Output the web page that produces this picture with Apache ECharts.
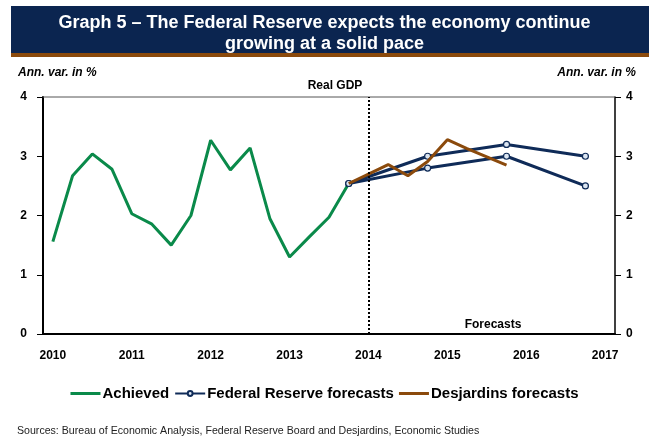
<!DOCTYPE html>
<html>
<head>
<meta charset="utf-8">
<script src="https://cdn.jsdelivr.net/npm/echarts@6/dist/echarts.min.js"></script>
<style>
  html, body { margin: 0; padding: 0; background: #ffffff; }
  #chart { width: 649px; height: 438px; }
</style>
</head>
<body>
<div id="chart"></div>
<script>
// Quarterly categories, 2010Q1 .. 2017Q1
const years = [2010, 2011, 2012, 2013, 2014, 2015, 2016, 2017];
const quarters = [];
years.forEach(function (y) {
  for (let q = 1; q <= 4; q++) {
    if (y === 2017 && q > 1) break;
    quarters.push(y + 'Q' + q);
  }
});

// Real GDP, annual variation in % (2010Q1 .. 2013Q4)
const achieved = [1.56, 2.67, 3.04, 2.78, 2.03, 1.86, 1.50, 2.00,
                  3.27, 2.77, 3.14, 1.95, 1.30, 1.64, 1.97, 2.54];

// Federal Reserve forecasts: upper and lower bounds (2013Q4, 2014Q4, 2015Q4, 2016Q4)
const fedQuarters = ['2013Q4', '2014Q4', '2015Q4', '2016Q4'];
const fedUpper = [2.54, 3.0, 3.2, 3.0];
const fedLower = [2.54, 2.8, 3.0, 2.5];

// Desjardins forecasts (2013Q4 .. 2015Q4)
const desjStart = '2013Q4';
const desjardins = [2.54, 2.70, 2.86, 2.67, 2.91, 3.28, 3.13, 2.99, 2.85];

const yTicks = [0, 1, 2, 3, 4];

function spread(keys, vals) {
  const out = quarters.map(function () { return null; });
  keys.forEach(function (k, i) { out[quarters.indexOf(k)] = vals[i]; });
  return out;
}
function fromIndex(start, vals) {
  const out = quarters.map(function () { return null; });
  const s = quarters.indexOf(start);
  vals.forEach(function (v, i) { out[s + i] = v; });
  return out;
}

const achievedData = fromIndex('2010Q1', achieved);
const upperData = spread(fedQuarters, fedUpper);
const lowerData = spread(fedQuarters, fedLower);
const desjData = fromIndex(desjStart, desjardins);

const GREEN = '#0a8a4a';
const NAVY = '#0f2b58';
const BROWN = '#8b4a0c';
const FONT = '"Liberation Sans", Arial, sans-serif';
// plain line swatch for legend entries without markers
const LINE_ICON = 'path://M0,0H30V3H0Z';

const chart = echarts.init(document.getElementById('chart'), null, { renderer: 'canvas' });

const fedSeries = function (data) {
  return {
    name: 'Federal Reserve forecasts',
    type: 'line',
    data: data,
    connectNulls: true,
    symbol: 'circle',
    symbolSize: 6,
    showSymbol: true,
    lineStyle: { color: NAVY, width: 3 },
    itemStyle: { color: '#dbe5f1', borderColor: NAVY, borderWidth: 1.2 },
    z: 3
  };
};

chart.setOption({
  animation: false,
  textStyle: { fontFamily: FONT },
  graphic: [
    { type: 'rect', shape: { x: 11, y: 6, width: 638, height: 47 }, style: { fill: '#0b2550' }, z: 0 },
    { type: 'rect', shape: { x: 11, y: 53, width: 638, height: 4 }, style: { fill: '#8b4a0c' }, z: 0 },
    { type: 'text', x: 18, y: 67, style: { text: 'Ann. var. in %', font: 'italic bold 12px ' + FONT, fill: '#000' } },
    { type: 'text', x: 636, y: 67, style: { text: 'Ann. var. in %', font: 'italic bold 12px ' + FONT, fill: '#000', textAlign: 'right' } },
    { type: 'text', x: 335, y: 80, style: { text: 'Real GDP', font: 'bold 12px ' + FONT, fill: '#000', textAlign: 'center' } },
    { type: 'text', x: 493, y: 319, style: { text: 'Forecasts', font: 'bold 12px ' + FONT, fill: '#000', textAlign: 'center' } },
    { type: 'text', x: 17, y: 426, style: { text: 'Sources: Bureau of Economic Analysis, Federal Reserve Board and Desjardins, Economic Studies', font: '10.6px ' + FONT, fill: '#222' } },
    // plot frame top edge
    { type: 'line', shape: { x1: 43, y1: 97, x2: 615, y2: 97 }, style: { stroke: '#555', lineWidth: 1 }, z: 1 }
  ],
  title: {
    text: 'Graph 5 \u2013 The Federal Reserve expects the economy continue\ngrowing at a solid pace',
    left: 'center',
    top: 8,
    textStyle: { color: '#ffffff', fontSize: 18, fontWeight: 'bold', fontFamily: FONT, lineHeight: 21 }
  },
  legend: {
    bottom: 32,
    left: 'center',
    itemWidth: 30,
    itemHeight: 6,
    itemGap: 5,
    data: [
      { name: 'Achieved', icon: LINE_ICON },
      { name: 'Federal Reserve forecasts' },
      { name: 'Desjardins forecasts', icon: LINE_ICON }
    ],
    textStyle: { fontSize: 15, fontWeight: 'bold', color: '#000', fontFamily: FONT, padding: [0, 0, 0, -3] }
  },
  grid: { left: 43, right: 34, top: 97, bottom: 104, containLabel: false },
  xAxis: {
    type: 'category',
    data: quarters,
    boundaryGap: true,
    axisLine: { lineStyle: { color: '#000', width: 2 } },
    axisTick: { show: false },
    axisLabel: {
      interval: 3,
      margin: 16,
      color: '#000',
      fontSize: 12,
      fontWeight: 'bold',
      fontFamily: FONT,
      formatter: function (v) { return v.slice(0, 4); }
    },
    splitLine: { show: false }
  },
  yAxis: [
    {
      type: 'value', min: yTicks[0], max: yTicks[yTicks.length - 1], interval: 1,
      position: 'left',
      axisLine: { show: true, lineStyle: { color: '#000', width: 2 } },
      axisTick: { show: true, length: 6, lineStyle: { color: '#000', width: 1 } },
      axisLabel: { color: '#000', fontSize: 12, fontWeight: 'bold', margin: 16, fontFamily: FONT },
      splitLine: { show: false }
    },
    {
      type: 'value', min: yTicks[0], max: yTicks[yTicks.length - 1], interval: 1,
      position: 'right',
      axisLine: { show: true, lineStyle: { color: '#000', width: 1.5 } },
      axisTick: { show: true, length: 6, lineStyle: { color: '#000', width: 1 } },
      axisLabel: { color: '#000', fontSize: 12, fontWeight: 'bold', margin: 11, fontFamily: FONT },
      splitLine: { show: false }
    }
  ],
  series: [
    {
      name: 'Achieved',
      type: 'line',
      data: achievedData,
      symbol: 'none',
      lineStyle: { color: GREEN, width: 3 },
      itemStyle: { color: GREEN },
      z: 2,
      markLine: {
        silent: true,
        symbol: 'none',
        label: { show: false },
        lineStyle: { color: '#000', type: [2, 2], width: 2 },
        data: [{ xAxis: '2014Q1' }]
      }
    },
    fedSeries(upperData),
    fedSeries(lowerData),
    {
      name: 'Desjardins forecasts',
      type: 'line',
      data: desjData,
      symbol: 'none',
      lineStyle: { color: BROWN, width: 3 },
      itemStyle: { color: BROWN },
      z: 4
    }
  ]
});
</script>
</body>
</html>
